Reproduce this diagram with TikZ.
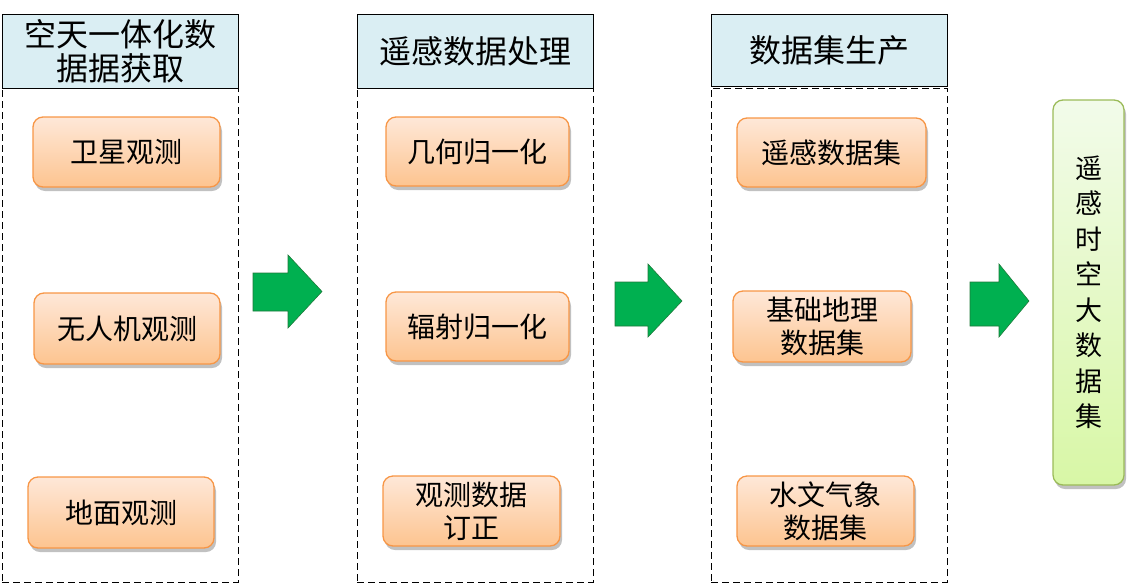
\documentclass[tikz,border=0pt]{standalone}
\usepackage{fontspec}
\newfontfamily\cjk{Noto Sans CJK SC}
\usetikzlibrary{shadows}
\definecolor{hdrfill}{HTML}{DAEEF3}
\definecolor{orTop}{HTML}{FEE8D8}
\definecolor{orBot}{HTML}{FDC490}
\definecolor{orLine}{HTML}{F79646}
\definecolor{grTop}{HTML}{F2FBEA}
\definecolor{grBot}{HTML}{D8F7A6}
\definecolor{grLine}{HTML}{9BBB59}
\definecolor{arrFill}{HTML}{00B050}
\definecolor{arrLine}{HTML}{1E7A3A}
\tikzset{
  hdr/.style={draw=black, line width=0.8pt, fill=hdrfill, inner sep=0pt, align=center,
    font=\cjk\fontsize{32}{34}\selectfont},
  colbox/.style={draw=black, dash pattern=on 7pt off 4pt, line width=0.8pt},
  itembox/.style={draw=orLine, line width=1.3pt, rounded corners=10pt, top color=orTop, bottom color=orBot,
    inner sep=0pt, align=center, font=\cjk\fontsize{28}{33}\selectfont,
    drop shadow={shadow xshift=2pt, shadow yshift=-4pt, opacity=0.35, fill=black!70}},
  bigbox/.style={draw=grLine, line width=1.3pt, rounded corners=10pt, top color=grTop, bottom color=grBot,
    inner sep=0pt, align=center, font=\cjk\fontsize{27}{35.5}\selectfont,
    drop shadow={shadow xshift=2pt, shadow yshift=-4pt, opacity=0.35, fill=black!70}},
  flowarrow/.style={draw=arrLine, line width=0.6pt, fill=arrFill, line join=miter},
}
\begin{document}
\begin{tikzpicture}[x=1pt,y=-1pt]
\useasboundingbox (0,0) rectangle (1132,584);
% column frames
\node[colbox, minimum width=236pt, minimum height=494pt, inner sep=0pt] (c1) at (120,335) {};
\node[colbox, minimum width=236pt, minimum height=494pt, inner sep=0pt] (c2) at (475,335) {};
\node[colbox, minimum width=236pt, minimum height=494pt, inner sep=0pt] (c3) at (829,335) {};
% headers
\node[hdr, minimum width=236pt, minimum height=74pt] (h1) at (120,51) {空天一体化数\\据据获取};
\node[hdr, minimum width=236pt, minimum height=74pt] (h2) at (475,51) {遥感数据处理};
\node[hdr, minimum width=236pt, minimum height=72pt] (h3) at (829,50) {数据集生产};
% column 1
\node[itembox, minimum width=187pt, minimum height=70pt] (a1) at (126.5,152) {卫星观测};
\node[itembox, minimum width=186pt, minimum height=71pt] (a2) at (127,328.5) {无人机观测};
\node[itembox, minimum width=186pt, minimum height=71pt] (a3) at (121,512.5) {地面观测};
% column 2
\node[itembox, minimum width=183pt, minimum height=69pt] (b1) at (477.5,151.5) {几何归一化};
\node[itembox, minimum width=183pt, minimum height=69pt] (b2) at (477.5,326.5) {辐射归一化};
\node[itembox, minimum width=177pt, minimum height=70pt] (b3) at (471.5,511) {观测数据\\订正};
% column 3
\node[itembox, minimum width=189pt, minimum height=69pt] (d1) at (831.5,152.5) {遥感数据集};
\node[itembox, minimum width=178pt, minimum height=71pt] (d2) at (822,326.5) {基础地理\\数据集};
\node[itembox, minimum width=177pt, minimum height=70pt] (d3) at (825.5,511) {水文气象\\数据集};
% result
\node[bigbox, minimum width=71pt, minimum height=385pt] (r) at (1088.5,292.5) {遥\\感\\时\\空\\大\\数\\据\\集};
% block arrows (shapes)
\coordinate (f1) at (322,291.5);
\coordinate (f2) at (682,301);
\coordinate (f3) at (1029,301);
\path[flowarrow] (253,273) -- (288,273) -- (288,255) -- (f1) -- (288,328) -- (288,311) -- (253,311) -- cycle;
\path[flowarrow] (615,282) -- (648,282) -- (648,264) -- (f2) -- (648,337) -- (648,326) -- (615,326) -- cycle;
\path[flowarrow] (970,282) -- (999,282) -- (999,264) -- (f3) -- (999,337) -- (999,326) -- (970,326) -- cycle;
\end{tikzpicture}
\end{document}
